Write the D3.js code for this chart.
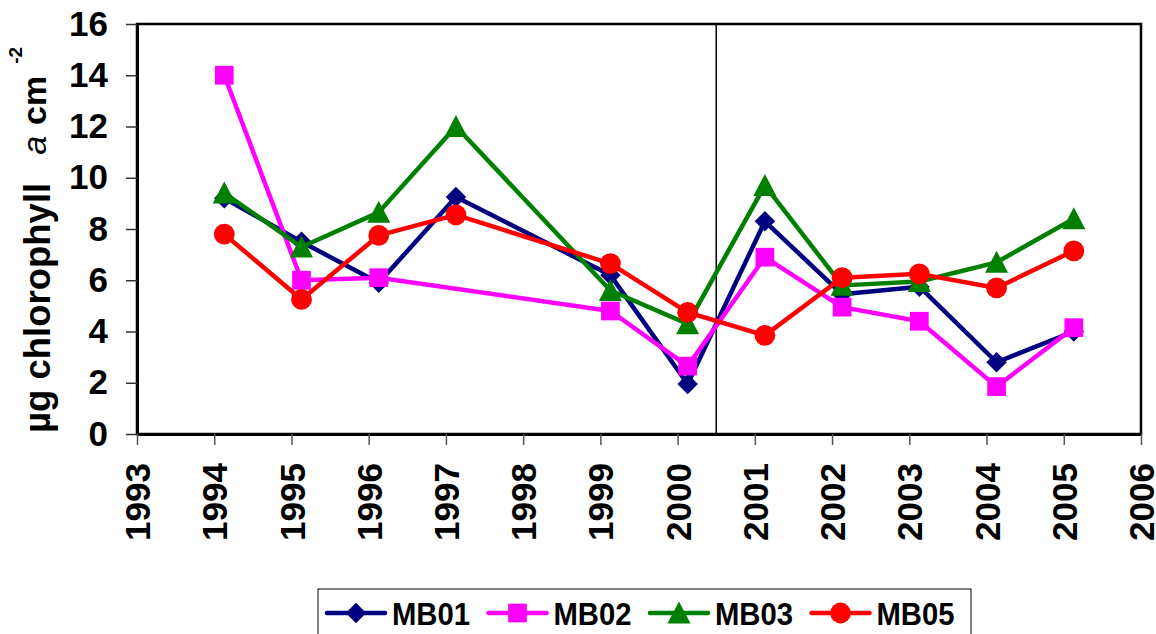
<!DOCTYPE html>
<html>

<head>
  <title>Chlorophyll a</title>
  <script src="https://d3js.org/d3.v7.min.js"></script>
  <style>
    body {
      margin: 0;
      background: #ffffff;
      font-family: "Liberation Sans", Arial, sans-serif;
    }

    #chart svg {
      display: block;
    }
  </style>
</head>

<body>
  <div id="chart"></div>

  <script>
    // Sampling years (no samples in 1998)
    const years = [1994, 1995, 1996, 1997, 1999, 2000, 2001, 2002, 2003, 2004, 2005];
    // Samples sit a little after the start of each year
    const yearOffset = 0.13;

    const mb01 = [9.2, 7.5, 5.9, 9.25, 6.2, 1.95, 8.3, 5.45, 5.75, 2.8, 4.0];
    const mb02 = [14.0, 6.0, 6.1, null, 4.8, 2.65, 6.9, 4.95, 4.4, 1.85, 4.15];
    const mb03 = [9.4, 7.3, 8.65, 12.0, 5.6, 4.3, 9.7, 5.8, 5.95, 6.7, 8.4];
    const mb05 = [7.8, 5.25, 7.75, 8.55, 6.65, 4.75, 3.85, 6.1, 6.25, 5.7, 7.15];

    const seriesNames = ["MB01", "MB02", "MB03", "MB05"];
    const seriesValues = [mb01, mb02, mb03, mb05];

    const xTicks = d3.range(1993, 2007);
    const yTicks = [0, 2, 4, 6, 8, 10, 12, 14, 16];
    const splitYear = 2000.5;

    const W = 1156, H = 634;
    const plotL = 137, plotR = 1141, plotT = 24, plotB = 434;

    const colors = ["#000080", "#ff00ff", "#008000", "#ff0000"];

    // Marker shapes, Excel style
    const diamond = {
      draw(ctx, size) {
        const r = Math.sqrt(size / 2);
        ctx.moveTo(0, -r);
        ctx.lineTo(r, 0);
        ctx.lineTo(0, r);
        ctx.lineTo(-r, 0);
        ctx.closePath();
      }
    };
    const triangle = {
      draw(ctx, size) {
        const s = Math.sqrt(size);
        ctx.moveTo(0, -s * 0.55);
        ctx.lineTo(s * 0.55, s * 0.5);
        ctx.lineTo(-s * 0.55, s * 0.5);
        ctx.closePath();
      }
    };
    const shapes = [
      d3.symbol(diamond, 210),
      d3.symbol(d3.symbolSquare, 350),
      d3.symbol(triangle, 440),
      d3.symbol(d3.symbolCircle, 340)
    ];

    const svg = d3.select("#chart").append("svg")
      .attr("width", W)
      .attr("height", H);

    const x = d3.scaleLinear().domain([1993, 2006]).range([plotL, plotR]);
    const y = d3.scaleLinear().domain([0, 16]).range([plotB, plotT]);

    // Plot frame
    svg.append("rect")
      .attr("x", plotL).attr("y", plotT)
      .attr("width", plotR - plotL).attr("height", plotB - plotT)
      .attr("fill", "none")
      .attr("stroke", "#000")
      .attr("stroke-width", 2.5);

    // Divider between the two periods
    svg.append("line")
      .attr("x1", x(splitYear)).attr("x2", x(splitYear))
      .attr("y1", y(16)).attr("y2", y(0))
      .attr("stroke", "#000")
      .attr("stroke-width", 1.5);

    // Y axis
    const yAxis = svg.append("g")
      .attr("transform", `translate(${plotL},0)`)
      .call(d3.axisLeft(y).tickValues(yTicks).tickSize(11).tickSizeOuter(0).tickPadding(18));
    yAxis.select(".domain").attr("stroke", "#000").attr("stroke-width", 3);
    yAxis.selectAll(".tick line").attr("stroke", "#333").attr("stroke-width", 1.5);
    yAxis.selectAll(".tick text")
      .attr("font-family", "Liberation Sans, Arial, sans-serif")
      .attr("font-size", 35)
      .attr("font-weight", "bold")
      .attr("fill", "#000");

    // X axis
    const xAxis = svg.append("g")
      .attr("transform", `translate(0,${plotB})`)
      .call(d3.axisBottom(x).tickValues(xTicks).tickFormat(d3.format("d")).tickSize(11).tickSizeOuter(0));
    xAxis.select(".domain").attr("stroke", "#000").attr("stroke-width", 3);
    xAxis.selectAll(".tick line").attr("stroke", "#555").attr("stroke-width", 1.5);
    xAxis.selectAll(".tick text")
      .attr("font-family", "Liberation Sans, Arial, sans-serif")
      .attr("font-size", 35)
      .attr("font-weight", "bold")
      .attr("fill", "#000")
      .attr("transform", "rotate(-90)")
      .attr("text-anchor", "end")
      .attr("x", -29)
      .attr("y", 0)
      .attr("dy", "0.36em");

    // Y axis title
    const title = svg.append("text")
      .attr("transform", "translate(50,433) rotate(-90)")
      .attr("font-family", "Liberation Sans, Arial, sans-serif")
      .attr("font-size", 36.5)
      .attr("font-weight", "bold")
      .attr("fill", "#000");
    title.append("tspan").text("µg chlorophyll");
    title.append("tspan")
      .attr("dx", 28)
      .attr("dy", -4)
      .attr("font-size", 34)
      .attr("font-style", "italic")
      .attr("font-weight", "normal")
      .text("a");
    title.append("tspan")
      .attr("dx", 11)
      .attr("font-size", 34)
      .text("cm");
    title.append("tspan")
      .attr("dx", 12)
      .attr("dy", -24)
      .attr("font-size", 19)
      .text("-2");

    // Series
    const line = d3.line()
      .x(d => x(d.year + yearOffset))
      .y(d => y(d.v));

    seriesValues.forEach((vals, i) => {
      const pts = years.map((yr, j) => ({ year: yr, v: vals[j] })).filter(d => d.v !== null);
      const g = svg.append("g").attr("class", "series-" + seriesNames[i]);
      g.append("path")
        .datum(pts)
        .attr("d", line)
        .attr("fill", "none")
        .attr("stroke", colors[i])
        .attr("stroke-width", 4.5)
        .attr("stroke-linejoin", "round");
      g.selectAll("path.marker")
        .data(pts)
        .join("path")
        .attr("class", "marker")
        .attr("transform", d => `translate(${x(d.year + yearOffset)},${y(d.v)})`)
        .attr("d", shapes[i])
        .attr("fill", colors[i]);
    });

    // Legend
    const legend = svg.append("g");
    legend.append("rect")
      .attr("x", 318).attr("y", 589)
      .attr("width", 653).attr("height", 60)
      .attr("fill", "#fff")
      .attr("stroke", "#000")
      .attr("stroke-width", 1);

    const item = legend.selectAll("g.item")
      .data(seriesNames)
      .join("g")
      .attr("class", "item")
      .attr("transform", (d, i) => `translate(${327 + i * 161.5},613)`);
    item.append("line")
      .attr("x1", 0).attr("x2", 58)
      .attr("stroke", (d, i) => colors[i])
      .attr("stroke-width", 4.5)
      .attr("stroke-linecap", "round");
    item.append("path")
      .attr("transform", "translate(29,0)")
      .attr("d", (d, i) => shapes[i]())
      .attr("fill", (d, i) => colors[i]);
    item.append("text")
      .attr("x", 65)
      .attr("y", 0)
      .attr("dy", "0.36em")
      .attr("font-family", "Liberation Sans, Arial, sans-serif")
      .attr("font-size", 32)
      .attr("font-weight", "bold")
      .attr("fill", "#000")
      .attr("textLength", 78)
      .attr("lengthAdjust", "spacingAndGlyphs")
      .text(d => d);
  </script>

</body>

</html>
